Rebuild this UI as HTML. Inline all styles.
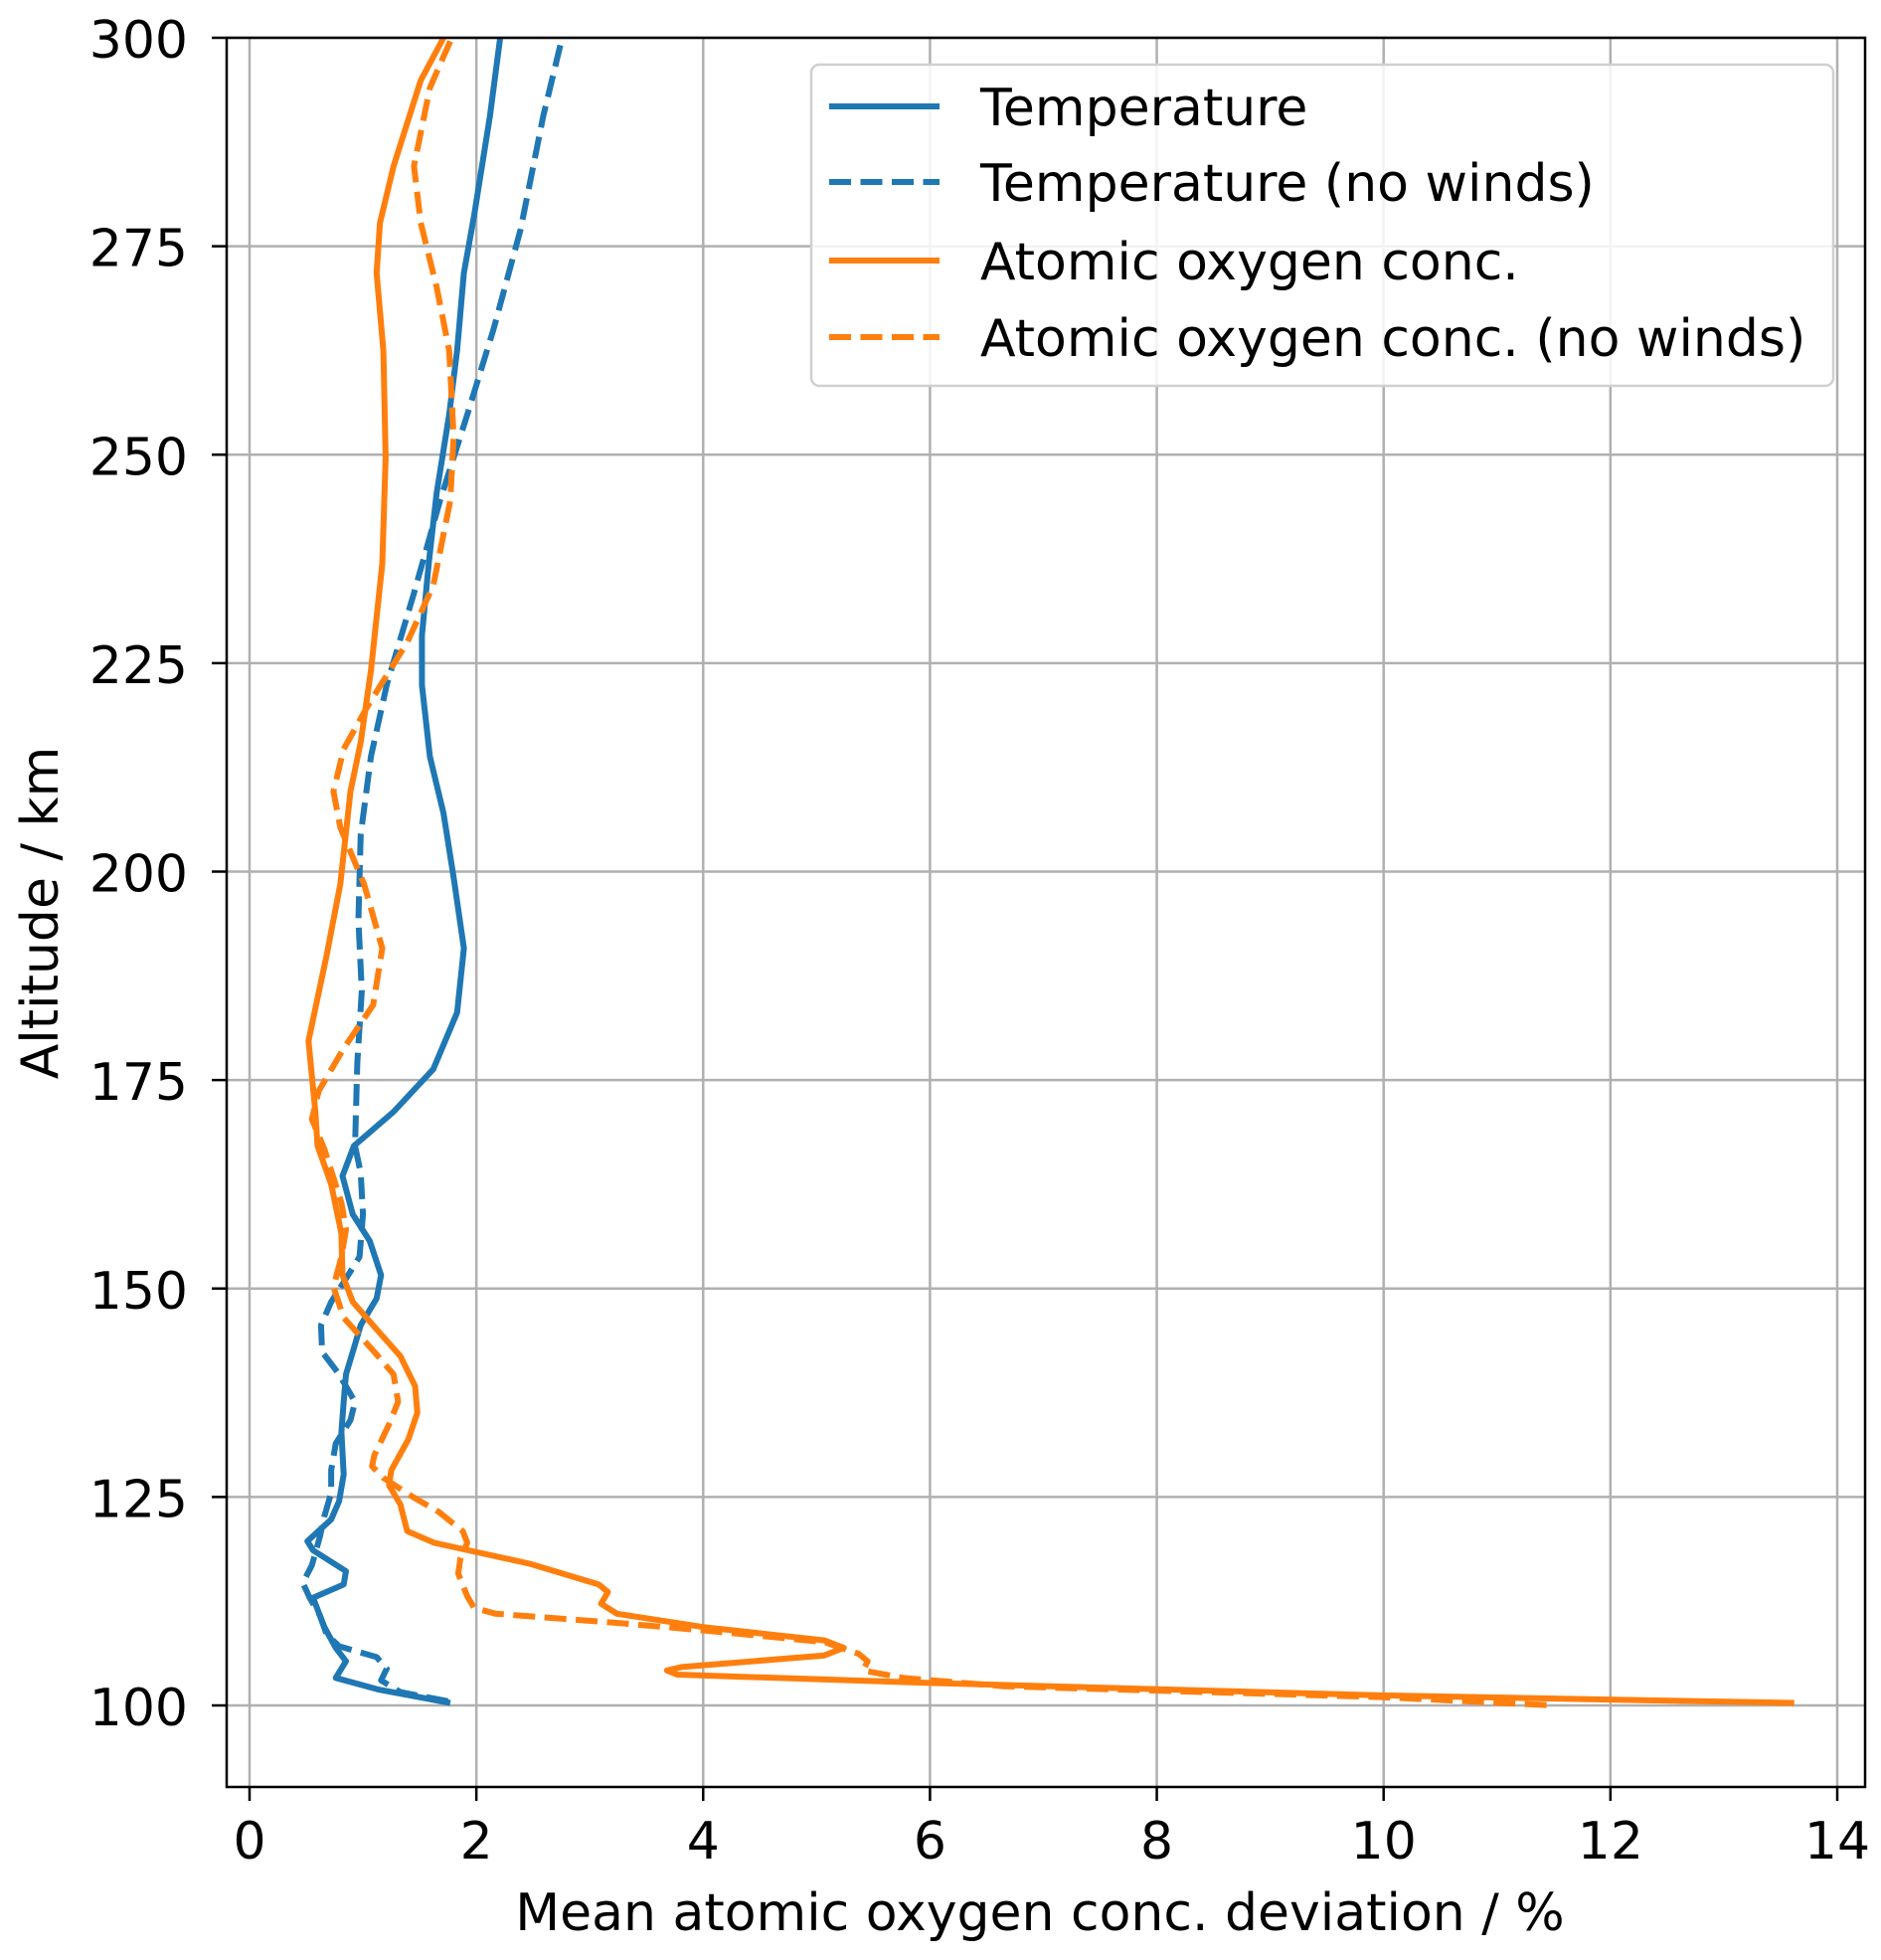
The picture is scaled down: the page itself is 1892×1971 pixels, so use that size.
<!DOCTYPE html>
<html><head><meta charset="utf-8"><style>
html,body{margin:0;padding:0;background:#fff;}
svg{display:block;font-family:"DejaVu Sans","Liberation Sans",sans-serif;}
</style></head><body>
<svg id="chart" width="1892" height="1971" viewBox="0 0 1892 1971" xmlns="http://www.w3.org/2000/svg">
<g id="grid"></g>
<g id="series"></g>
<rect x="228" y="38" width="1648" height="1759" fill="none" stroke="#000" stroke-width="2.5"/>
<g id="ticks"></g>
<text x="1046" y="1941" font-size="52" text-anchor="middle">Mean atomic oxygen conc. deviation / %</text>
<text transform="translate(58,918) rotate(-90)" font-size="52" text-anchor="middle">Altitude / km</text>
<g>
<rect x="816" y="65" width="1028" height="323" rx="8" fill="#fff" fill-opacity="0.85" stroke="#d0d0d0" stroke-width="2.5"/>
<line x1="834" y1="107" x2="945" y2="107" stroke="#1f77b4" stroke-width="6"/>
<text x="986" y="126" font-size="52">Temperature</text>
<line x1="834" y1="183" x2="945" y2="183" stroke="#1f77b4" stroke-width="6" stroke-dasharray="22,9.5"/>
<text x="986" y="202" font-size="52">Temperature (no winds)</text>
<line x1="834" y1="262" x2="945" y2="262" stroke="#ff7f0e" stroke-width="6"/>
<text x="986" y="281" font-size="52">Atomic oxygen conc.</text>
<line x1="834" y1="339" x2="945" y2="339" stroke="#ff7f0e" stroke-width="6" stroke-dasharray="22,9.5"/>
<text x="986" y="358" font-size="52">Atomic oxygen conc. (no winds)</text>
</g>
</svg>
<script>
const xTicks=[0,2,4,6,8,10,12,14];
const yTicks=[100,125,150,175,200,225,250,275,300];
const tempAlt=[300,290.6,278.7,271.8,262.5,254.8,245.4,236.9,228.3,222.4,213.8,207,199.3,190.8,183.1,176.3,171.2,167.1,163.5,158.9,155.7,151.6,148.8,145.6,143.3,139.7,136.4,132.8,127.7,124.5,122.3,119.7,118.6,116.1,114.5,112.9,109.4,106.9,105.3,103.3,101.9,100.3];
const tempVal=[2.21,2.12,1.98,1.89,1.83,1.76,1.65,1.58,1.52,1.52,1.59,1.71,1.80,1.89,1.83,1.62,1.27,0.92,0.82,0.91,1.06,1.16,1.12,0.98,0.93,0.85,0.83,0.81,0.83,0.79,0.72,0.51,0.56,0.85,0.83,0.56,0.66,0.76,0.85,0.76,1.14,1.77];
const tempNwAlt=[299.1,290.6,277,265,254.8,244.5,233.4,222.4,213.8,204.4,194.2,185.7,177.1,167.1,163.9,158.9,153.8,151.6,148.4,145.6,142.4,139.7,136.4,134.2,131.4,128.2,125.5,122.7,120.2,116.8,114.7,112.9,110.8,108.5,107.1,105.8,104.4,103,101.6,100.5];
const tempNwVal=[2.74,2.59,2.39,2.15,1.92,1.68,1.45,1.21,1.07,0.98,0.96,0.99,0.95,0.93,0.98,1.0,0.97,0.87,0.72,0.63,0.64,0.79,0.93,0.89,0.76,0.72,0.72,0.66,0.62,0.55,0.47,0.53,0.62,0.68,0.79,1.12,1.21,1.16,1.33,1.75];
const oxAlt=[300,294.9,284.6,277.8,271.8,262.5,249.7,236.9,224.1,215.5,209.6,198.5,190,179.7,171.2,167.1,162.5,156.6,151.6,148.4,145.1,141.9,138.3,135.1,131.9,128.2,126.4,124.1,120.9,119.5,117,114.5,113.6,112.2,111,109.4,107.8,106.9,106,104.6,104.2,103.7,102.7,101.2,100.3];
const oxVal=[1.71,1.51,1.27,1.15,1.12,1.18,1.20,1.17,1.07,0.98,0.89,0.80,0.68,0.52,0.58,0.60,0.72,0.81,0.82,0.91,1.12,1.33,1.46,1.48,1.40,1.25,1.23,1.33,1.39,1.63,2.47,3.08,3.16,3.10,3.24,4.0,5.07,5.24,5.07,3.81,3.68,3.77,6.0,9.97,13.62];
const oxNwAlt=[299.6,294,284.6,277.8,270.1,262.5,252.2,244.5,234.3,227.5,219.8,214.7,209.6,205.3,198.5,190.8,184,178.8,173.7,170.3,166.7,160.3,157.1,153.8,150.2,146.5,142.4,139.7,136.4,133.7,130,128.7,127.3,125,123.2,120.9,119.5,117.7,115.8,113.1,111.7,111,109.9,109,107.6,106.2,105.3,104.2,103.3,102.3,101,100];
const oxNwVal=[1.77,1.59,1.45,1.51,1.65,1.76,1.80,1.77,1.62,1.39,1.04,0.83,0.74,0.80,1.01,1.17,1.09,0.83,0.61,0.55,0.66,0.81,0.85,0.81,0.74,0.83,1.10,1.27,1.31,1.23,1.10,1.08,1.18,1.44,1.67,1.88,1.92,1.86,1.84,1.92,1.98,2.17,3.24,4.0,5.07,5.37,5.45,5.41,5.76,6.65,9.97,11.5];
const NS='http://www.w3.org/2000/svg';
const X0=228,X1=1876,Y0=38,Y1=1797;
function xs(v){return 251+v*(1848-251)/14;}
function ys(v){return 1715-(v-100)*(1715-38)/200;}
function mk(t,a){const e=document.createElementNS(NS,t);for(const k in a)e.setAttribute(k,a[k]);return e;}
const grid=document.getElementById('grid'),ticks=document.getElementById('ticks'),series=document.getElementById('series');
xTicks.forEach(v=>{
 const g=mk('line',{x1:xs(v),x2:xs(v),y1:Y0,y2:Y1,stroke:'#b0b0b0','stroke-width':2.5});
 
 
 grid.appendChild(g);
 const t=mk('line',{x1:xs(v),x2:xs(v),y1:Y1,y2:Y1+14,stroke:'#000','stroke-width':2.5});
 
 
 ticks.appendChild(t);
 const l=mk('text',{x:xs(v),y:1869,'font-size':52,'text-anchor':'middle'});
 
 
 l.textContent=v;ticks.appendChild(l);
});
yTicks.forEach(v=>{
 const g=mk('line',{x1:X0,x2:X1,y1:ys(v),y2:ys(v),stroke:'#b0b0b0','stroke-width':2.5});
 
 
 grid.appendChild(g);
 const t=mk('line',{x1:X0-15,x2:X0,y1:ys(v),y2:ys(v),stroke:'#000','stroke-width':2.5});
 
 
 ticks.appendChild(t);
 const l=mk('text',{x:X0-39,y:ys(v)+20,'font-size':52,'text-anchor':'end'});
 
 
 l.textContent=v;ticks.appendChild(l);
});
function line(alt,val,color,dash,name){
 const d=alt.map((a,i)=>(i?'L':'M')+xs(val[i]).toFixed(1)+','+ys(a).toFixed(1)).join('');
 const p=mk('path',{d:d,fill:'none',stroke:color,'stroke-width':6,'stroke-linejoin':'round'});
 if(dash)p.setAttribute('stroke-dasharray','22,9.5');
 
 
 series.appendChild(p);
}
line(tempAlt,tempVal,'#1f77b4',false,'temperature-line');
line(tempNwAlt,tempNwVal,'#1f77b4',true,'temperature-no-winds-line');
line(oxAlt,oxVal,'#ff7f0e',false,'oxygen-line');
line(oxNwAlt,oxNwVal,'#ff7f0e',true,'oxygen-no-winds-line');
</script>
</body></html>
